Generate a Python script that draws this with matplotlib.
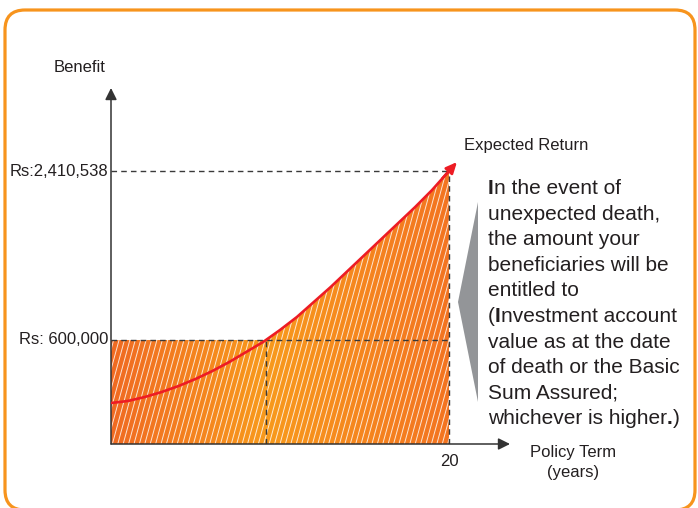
import numpy as np
import matplotlib
matplotlib.use("Agg")
import matplotlib.pyplot as plt
from matplotlib.patches import Polygon, FancyBboxPatch
from matplotlib.collections import LineCollection
from matplotlib.colors import LinearSegmentedColormap
from matplotlib.transforms import IdentityTransform

plt.rcParams['font.family'] = ['Liberation Sans', 'DejaVu Sans']

# schematic chart, values (chart height units)
years = list(range(21))
expected_return = [41, 43, 47, 52, 58, 65, 73, 82, 92, 102, 114,
                   127, 142, 157, 173, 189, 205, 221, 237, 254, 273]
benefit_levels = [104, 273]
benefit_labels = ["Rs: 600,000", "Rs:2,410,538"]
term_ticks = [20]
term_labels = ["20"]

note_lines = [
    [("I", "bold"), ("n the event of", "normal")],
    [("unexpected death,", "normal")],
    [("the amount your", "normal")],
    [("beneficiaries will be", "normal")],
    [("entitled to", "normal")],
    [("(", "normal"), ("I", "bold"), ("nvestment account", "normal")],
    [("value as at the date", "normal")],
    [("of death or the Basic", "normal")],
    [("Sum Assured;", "normal")],
    [("whichever is higher", "normal"), (".", "bold"), (")", "normal")],
]

W, H = 698, 508
TXT = '#231f20'
fig = plt.figure(figsize=(W / 100, H / 100), dpi=100)


def fx(x):
    return x / W


def fy(y):
    # image pixel row -> figure fraction
    return 1 - y / H


# rounded orange frame, bottom edge just below the picture
frame = FancyBboxPatch((5, -2), 690, H - 10 + 2,
                       boxstyle="round,pad=0,rounding_size=20",
                       transform=IdentityTransform(), fill=False,
                       edgecolor='#f7941d', linewidth=2.3)
fig.add_artist(frame)

# axes: x 0..20 spans px 111..449, y unit = 1 px
ax = fig.add_axes([fx(111), fy(444), 399 / W, 356 / H])
ax.set_xlim(0, 20 * 399 / 338)
ax.set_ylim(0, 356)
ax.axis('off')

low, high = benefit_levels
x = np.array(years, dtype=float)
y = np.array(expected_return, dtype=float)
# where the curve meets the sum assured level
x_cross = np.interp(low, y, x)

# fill region = max(curve, sum assured)
right = x > x_cross
verts = [(0, 0), (0, low), (x_cross, low)] + list(zip(x[right], y[right])) + [(x[-1], 0)]
region = Polygon(verts, closed=True, facecolor='none', edgecolor='none')
ax.add_patch(region)

cmap = LinearSegmentedColormap.from_list(
    'org', [(0, '#f06a22'), (0.46, '#f89a1c'), (1, '#f37421')])
grad = np.linspace(0, 1, 256).reshape(1, -1)
im = ax.imshow(grad, cmap=cmap, aspect='auto', extent=[0, x[-1], 0, high],
               origin='lower', zorder=1)
im.set_clip_path(region)

# steep white hatch lines
step = 0.32
rise = 62.0
segs = []
for c in np.arange(-6, x[-1] + 1, step):
    segs.append([(c, 0), (c + high / rise, high)])
hatch = LineCollection(segs, colors='white', linewidths=0.7, alpha=0.8, zorder=2)
ax.add_collection(hatch)
hatch.set_clip_path(region)

# dashed guides
dash = dict(color='#3a3a3a', lw=1.0, linestyle=(0, (4, 3)), zorder=3)
for lv in benefit_levels:
    ax.plot([0, x[-1]], [lv, lv], **dash)
ax.plot([x_cross, x_cross], [0, low], **dash)
ax.plot([x[-1], x[-1]], [0, high], **dash)

# expected return curve with arrow
ax.plot(x, y, color='#ed1c24', lw=1.9, zorder=4, solid_capstyle='butt')
dx = 0.47
tip = (x[-1] + dx, y[-1] + (y[-1] - y[-2]) / (x[-1] - x[-2]) * dx)
ax.annotate('', xy=tip, xytext=(x[-2] + 0.6, y[-2] + 0.6 * (y[-1] - y[-2])),
            arrowprops=dict(arrowstyle='-|>,head_length=0.65,head_width=0.3',
                            color='#ed1c24', lw=1.9, shrinkA=0, shrinkB=0,
                            mutation_scale=10), zorder=5)

# axes with arrows
arr = dict(arrowstyle='-|>,head_length=0.7,head_width=0.35', color='#333333',
           lw=1.1, shrinkA=0, shrinkB=0, mutation_scale=10)
ax.annotate('', xy=(0, 1), xytext=(0, 0), xycoords='axes fraction', arrowprops=arr)
ax.annotate('', xy=(1, 0), xytext=(0, 0), xycoords='axes fraction', arrowprops=arr)

# tick labels
for lv, lab in zip(benefit_levels, benefit_labels):
    ax.text(-0.18, lv, lab, ha='right', va='center', fontsize=12, color=TXT)
for tk, lab in zip(term_ticks, term_labels):
    ax.text(tk, -17, lab, ha='center', va='center', fontsize=12, color=TXT)

fig.text(fx(80), fy(68), "Benefit", ha='center', va='center', fontsize=12, color=TXT)
fig.text(fx(464), fy(146), "Expected Return", ha='left', va='center', fontsize=12, color=TXT)
fig.text(fx(573), fy(452), "Policy Term", ha='center', va='center', fontsize=12, color=TXT)
fig.text(fx(573), fy(473), "(years)", ha='center', va='center', fontsize=12, color=TXT)

# grey pointer
wedge = Polygon([(478, H - 202), (458, H - 302), (478, H - 402)], closed=True,
                transform=IdentityTransform(), facecolor='#939598', edgecolor='none')
fig.add_artist(wedge)

# note text, drawn piece by piece for the bold letters
renderer = fig.canvas.get_renderer()
for i, line in enumerate(note_lines):
    xpos = 488
    base = 194 + i * 25.6
    for s, w in line:
        t = fig.text(fx(xpos), fy(base), s, ha='left', va='baseline',
                     fontsize=15, fontweight=w, color=TXT)
        bb = t.get_window_extent(renderer)
        xpos += bb.width

fig.savefig('out.png', dpi=100)
